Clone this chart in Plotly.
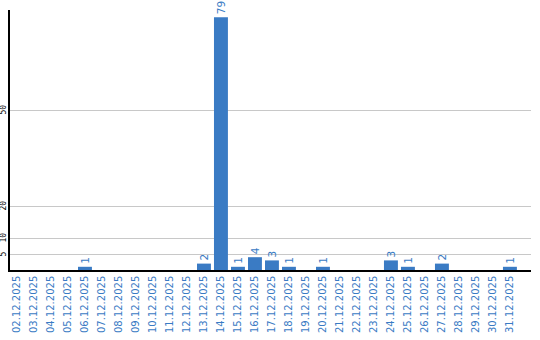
import plotly.graph_objects as go

dates = ["02.12.2025", "03.12.2025", "04.12.2025", "05.12.2025", "06.12.2025",
         "07.12.2025", "08.12.2025", "09.12.2025", "10.12.2025", "11.12.2025",
         "12.12.2025", "13.12.2025", "14.12.2025", "15.12.2025", "16.12.2025",
         "17.12.2025", "18.12.2025", "19.12.2025", "20.12.2025", "21.12.2025",
         "22.12.2025", "23.12.2025", "24.12.2025", "25.12.2025", "26.12.2025",
         "27.12.2025", "28.12.2025", "29.12.2025", "30.12.2025", "31.12.2025"]
counts = [0, 0, 0, 0, 1,
          0, 0, 0, 0, 0,
          0, 2, 79, 1, 4,
          3, 1, 0, 1, 0,
          0, 0, 3, 1, 0,
          2, 0, 0, 0, 1]
y_ticks = [5, 10, 20, 50]

blue = "#3a7bc4"
labels = [str(v) if v else "" for v in counts]

fig = go.Figure(go.Bar(
    x=dates, y=counts, text=labels, textposition="outside", textangle=-90,
    textfont=dict(family="DejaVu Sans", size=10.5, color=blue),
    marker=dict(color=blue, line=dict(width=0)),
    cliponaxis=False, constraintext="none",
))

for t in y_ticks:
    fig.add_annotation(x=0, xref="paper", y=t, yref="y", text=str(t),
                       textangle=-90, showarrow=False, xanchor="right",
                       yanchor="middle", xshift=-1,
                       font=dict(family="DejaVu Sans Mono", size=8, color="black"))

fig.update_layout(
    width=540, height=340,
    margin=dict(l=10, r=9, t=10, b=70),
    plot_bgcolor="white", paper_bgcolor="white",
    bargap=0.18, showlegend=False,
    xaxis=dict(type="category", range=[-0.41, 30.24], tickangle=-90,
               tickfont=dict(family="DejaVu Sans", size=10, color=blue),
               showline=True, linecolor="black", linewidth=1.5,
               showgrid=False, ticks="", ticklen=0, automargin=False),
    yaxis=dict(range=[0, 81.25], tickvals=y_ticks, showticklabels=False,
               showline=True, linecolor="black", linewidth=1.5,
               showgrid=True, gridcolor="#c8c8c8", gridwidth=1,
               zeroline=False, ticks="", automargin=False),
)

fig.write_html("out.html")
